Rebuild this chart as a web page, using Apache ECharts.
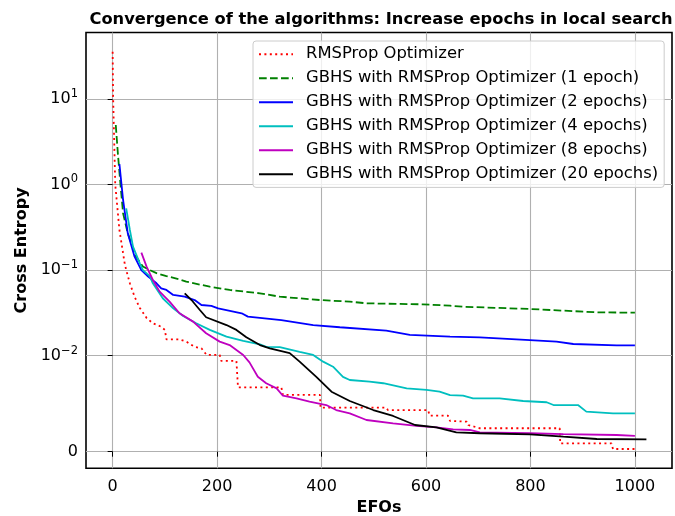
<!DOCTYPE html>
<html><head><meta charset="utf-8">
<script src="https://cdn.jsdelivr.net/npm/echarts@6/dist/echarts.min.js"></script>
<style>html,body{margin:0;padding:0;background:#fff}#c{width:675px;height:516px}</style>
</head><body><div id="c"></div>
<script>
// ---- data ----
const rmsX = [0, 1, 5, 13, 23, 26, 33, 42, 52, 65, 77, 93, 100, 103, 128, 141, 157, 170, 180, 205, 208, 237, 240, 323, 326, 397, 398, 524, 527, 604, 607, 642, 646, 678, 681, 703, 856, 857, 955, 958, 1000];
const rmsY = [35.6, 10, 1.0, 0.294, 0.12, 0.1, 0.0701, 0.0489, 0.0361, 0.0276, 0.0239, 0.0218, 0.020, 0.0155, 0.0155, 0.0146, 0.0127, 0.0122, 0.0102, 0.0102, 0.00945, 0.00945, 0.00671, 0.00671, 0.00591, 0.00591, 0.00458, 0.00458, 0.00434, 0.00434, 0.00375, 0.00375, 0.0032, 0.00313, 0.00278, 0.00244, 0.00244, 0.000875, 0.000875, 0.00028, 0.00028];

const ep1X = [6, 10, 15, 20, 29, 45, 58, 71, 84, 103, 128, 141, 186, 224, 282, 320, 397, 454, 486, 594, 646, 671, 799, 863, 927, 1000];
const ep1Y = [4.95, 2.31, 1.0, 0.461, 0.269, 0.1435, 0.11, 0.1, 0.092, 0.085, 0.078, 0.0732, 0.064, 0.0586, 0.0536, 0.0489, 0.0447, 0.0428, 0.0409, 0.0398, 0.0384, 0.0373, 0.0351, 0.0336, 0.0321, 0.0318];

const ep2X = [13, 17, 20, 29, 42, 55, 68, 84, 93, 103, 116, 138, 157, 170, 189, 202, 247, 259, 323, 384, 435, 524, 569, 646, 703, 799, 850, 882, 965, 1000];
const ep2Y = [1.735, 1.0, 0.659, 0.269, 0.1435, 0.1, 0.0838, 0.0701, 0.0613, 0.0586, 0.0512, 0.0489, 0.0447, 0.0391, 0.0381, 0.0358, 0.0313, 0.0286, 0.0261, 0.0228, 0.0215, 0.0196, 0.0175, 0.0167, 0.0164, 0.0152, 0.0146, 0.0137, 0.0132, 0.0132];

const ep4X = [26, 33, 39, 52, 58, 71, 77, 96, 116, 135, 160, 186, 218, 250, 282, 294, 320, 358, 384, 403, 422, 441, 454, 492, 518, 563, 601, 626, 646, 671, 690, 741, 786, 831, 844, 891, 907, 958, 1000];
const ep4Y = [0.527, 0.294, 0.1876, 0.12, 0.1, 0.085, 0.0701, 0.0469, 0.0358, 0.0291, 0.0239, 0.020, 0.0167, 0.0149, 0.0136, 0.0127, 0.0126, 0.0111, 0.0102, 0.00938, 0.00885, 0.0078, 0.00747, 0.00729, 0.00713, 0.0066, 0.00643, 0.00625, 0.0059, 0.00583, 0.00556, 0.00556, 0.00528, 0.00515, 0.00486, 0.00486, 0.00417, 0.0040, 0.0040];

const ep8X = [55, 65, 77, 90, 109, 128, 154, 179, 205, 224, 250, 262, 278, 294, 314, 326, 352, 377, 409, 428, 454, 486, 537, 582, 620, 652, 684, 703, 799, 863, 965, 1000];
const ep8Y = [0.16, 0.1096, 0.0766, 0.056, 0.0428, 0.0313, 0.025, 0.0183, 0.0146, 0.0133, 0.0102, 0.0093, 0.0078, 0.00713, 0.0066, 0.00583, 0.00556, 0.00521, 0.00486, 0.00434, 0.0040, 0.0033, 0.00296, 0.00268, 0.00254, 0.00233, 0.00226, 0.00202, 0.00192, 0.00184, 0.00174, 0.00164];

const ep20X = [138, 151, 167, 179, 218, 237, 256, 282, 301, 339, 358, 390, 419, 454, 499, 537, 579, 620, 658, 703, 799, 863, 927, 1022];
const ep20Y = [0.0536, 0.0447, 0.0342, 0.0281, 0.0228, 0.020, 0.0164, 0.0133, 0.0122, 0.0107, 0.00938, 0.0078, 0.00625, 0.00528, 0.00434, 0.00372, 0.00278, 0.00254, 0.00202, 0.00192, 0.00181, 0.00156, 0.00132, 0.00129];

const seriesNames = [
  'RMSProp Optimizer',
  'GBHS with RMSProp Optimizer (1 epoch)',
  'GBHS with RMSProp Optimizer (2 epochs)',
  'GBHS with RMSProp Optimizer (4 epochs)',
  'GBHS with RMSProp Optimizer (8 epochs)',
  'GBHS with RMSProp Optimizer (20 epochs)'
];
const xTicks = [0, 200, 400, 600, 800, 1000];
const yTicks = [0, 0.01, 0.1, 1, 10];
const yTickLabels = ['0', '10{s|\u22122}', '10{s|\u22121}', '10{s|0}', '10{s|1}'];

// ---- symmetric log scale (linear below 0.01) ----
const LINTHRESH = 0.01, LINSCALE = 1.1215;
function symlog(v) {
  return v <= LINTHRESH ? v / LINTHRESH * LINSCALE : LINSCALE + Math.log10(v / LINTHRESH);
}
function pairs(xs, ys) { return xs.map((x, i) => [x, symlog(ys[i])]); }

const FONT = 'DejaVu Sans';
const chart = echarts.init(document.getElementById('c'), null, {renderer: 'canvas'});

const styles = [
  {color: '#ff0000', type: [2, 3.4]},
  {color: '#008000', type: [7.7, 3.3]},
  {color: '#0000ff', type: 'solid'},
  {color: '#00bfbf', type: 'solid'},
  {color: '#bf00bf', type: 'solid'},
  {color: '#000000', type: 'solid'}
];
const dataSets = [pairs(rmsX, rmsY), pairs(ep1X, ep1Y), pairs(ep2X, ep2Y), pairs(ep4X, ep4Y), pairs(ep8X, ep8Y), pairs(ep20X, ep20Y)];

const yTickPos = yTicks.map(symlog);

chart.setOption({
  animation: false,
  backgroundColor: '#fff',
  title: {
    text: 'Convergence of the algorithms: Increase epochs in local search',
    left: 376, top: 7, textAlign: 'center',
    textStyle: {fontFamily: FONT, fontSize: 16.3, fontWeight: 'bold', color: '#000'}
  },
  grid: {left: 86, right: 3, top: 32.5, bottom: 47.7, show: true, borderColor: '#000', borderWidth: 1.6,
    containLabel: false, outerBoundsMode: 'none'},
  legend: {
    left: 253, top: 41,
    orient: 'vertical',
    data: seriesNames,
    itemWidth: 34, itemHeight: 14, itemGap: 7.6,
    padding: [5, 6, 5, 5],
    backgroundColor: 'rgba(255,255,255,0.8)',
    borderColor: '#cccccc', borderWidth: 1, borderRadius: 3,
    itemStyle: {opacity: 0},
    textStyle: {fontFamily: FONT, fontSize: 16.4, lineHeight: 16.4, color: '#000', padding: [0, 0, 0, 8]}
  },
  xAxis: {
    type: 'value', min: -51, max: 1071,
    name: 'EFOs', nameLocation: 'middle', nameGap: 32,
    nameTextStyle: {fontFamily: FONT, fontSize: 16, fontWeight: 'bold', color: '#000'},
    axisLine: {show: false},
    axisTick: {show: true, customValues: xTicks, length: 5, lineStyle: {color: '#000', width: 1}},
    axisLabel: {customValues: xTicks, fontFamily: FONT, fontSize: 16, color: '#000', margin: 11,
      formatter: v => String(v)},
    splitLine: {show: true, lineStyle: {color: '#b0b0b0', width: 1.1}}
  },
  yAxis: {
    type: 'value', min: -0.194, max: 4.897,
    name: 'Cross Entropy', nameLocation: 'middle', nameGap: 56,
    nameTextStyle: {fontFamily: FONT, fontSize: 16, fontWeight: 'bold', color: '#000'},
    axisLine: {show: false},
    axisTick: {show: true, customValues: yTickPos, length: 5, lineStyle: {color: '#000', width: 1}},
    axisLabel: {
      customValues: yTickPos, margin: 8,
      fontFamily: FONT, fontSize: 16, color: '#000',
      formatter: function (v) {
        let idx = 0, best = 1e9;
        yTickPos.forEach((p, i) => { const d = Math.abs(p - v); if (d < best) { best = d; idx = i; } });
        return yTickLabels[idx];
      },
      rich: {s: {fontFamily: FONT, fontSize: 11.5, color: '#000', padding: [0, 0, 10, 0]}}
    },
    splitLine: {show: true, lineStyle: {color: '#b0b0b0', width: 1.1}}
  },
  series: dataSets.map((d, i) => ({
    name: seriesNames[i], type: 'line', data: d, showSymbol: false, symbol: 'none',
    lineStyle: {color: styles[i].color, width: 1.8, type: styles[i].type},
    itemStyle: {color: styles[i].color},
    z: 2 + i
  }))
});
</script></body></html>
